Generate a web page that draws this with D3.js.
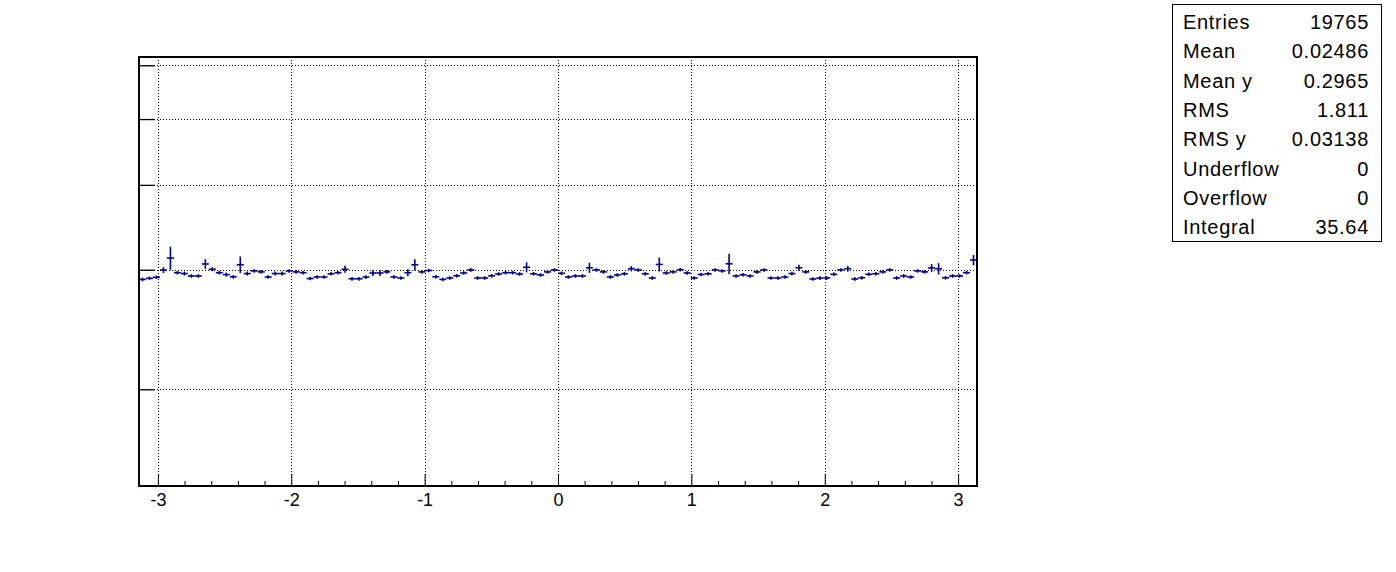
<!DOCTYPE html>
<html>
<head>
<meta charset="utf-8">
<script src="https://cdn.jsdelivr.net/npm/d3@7"></script>
<style>
  body { margin: 0; background: #fff; }
  svg { display: block; font-family: "Liberation Sans", Arial, Helvetica, sans-serif; }
</style>
</head>
<body>
<div class="chart"></div>
<script>
var width = 1396;
var height = 572;
var frame = { left: 139, right: 977, top: 57, bottom: 486 };
var markColor = "#000090";

// profile: 120 bins from -pi to pi
var nBins = 120;
var xMin = -Math.PI;
var xMax = Math.PI;

var binValues = [
	0.2903, 0.2914, 0.2924, 0.2997, 0.3121, 0.2970, 0.2961, 0.2937, 0.2937, 0.3059,
	0.3005, 0.2970, 0.2951, 0.2929, 0.3051, 0.2961, 0.2988, 0.2978, 0.2927, 0.2961,
	0.2961, 0.2988, 0.2978, 0.2970, 0.2912, 0.2927, 0.2927, 0.2959, 0.2970, 0.3005,
	0.2909, 0.2909, 0.2926, 0.2967, 0.2967, 0.2978, 0.2927, 0.2917, 0.2970, 0.3051,
	0.2978, 0.2992, 0.2929, 0.2903, 0.2917, 0.2939, 0.2967, 0.2998, 0.2917, 0.2917,
	0.2939, 0.2957, 0.2970, 0.2970, 0.2957, 0.3025, 0.2959, 0.2947, 0.2978, 0.2998,
	0.2964, 0.2927, 0.2937, 0.2937, 0.3020, 0.2998, 0.2978, 0.2927, 0.2947, 0.2959,
	0.3010, 0.2997, 0.2959, 0.2917, 0.3054, 0.2967, 0.2978, 0.3000, 0.2967, 0.2917,
	0.2952, 0.2959, 0.2998, 0.2988, 0.3061, 0.2937, 0.2949, 0.2937, 0.2978, 0.2998,
	0.2917, 0.2917, 0.2927, 0.2961, 0.3020, 0.2978, 0.2907, 0.2916, 0.2917, 0.2954,
	0.2998, 0.3010, 0.2907, 0.2919, 0.2954, 0.2959, 0.2978, 0.2998, 0.2917, 0.2937,
	0.2927, 0.2988, 0.2978, 0.3018, 0.3010, 0.2919, 0.2937, 0.2937, 0.2970, 0.3100
];

var binErrors = [
	0.0018, 0.0018, 0.0018, 0.0030, 0.0122, 0.0018, 0.0020, 0.0018, 0.0018, 0.0050,
	0.0020, 0.0018, 0.0020, 0.0018, 0.0086, 0.0020, 0.0018, 0.0018, 0.0018, 0.0020,
	0.0020, 0.0018, 0.0018, 0.0018, 0.0018, 0.0018, 0.0018, 0.0018, 0.0018, 0.0035,
	0.0018, 0.0018, 0.0018, 0.0030, 0.0030, 0.0018, 0.0018, 0.0018, 0.0035, 0.0058,
	0.0018, 0.0018, 0.0018, 0.0018, 0.0018, 0.0018, 0.0018, 0.0020, 0.0018, 0.0018,
	0.0018, 0.0018, 0.0018, 0.0018, 0.0018, 0.0052, 0.0018, 0.0018, 0.0018, 0.0018,
	0.0018, 0.0018, 0.0018, 0.0018, 0.0052, 0.0018, 0.0018, 0.0018, 0.0018, 0.0018,
	0.0027, 0.0018, 0.0018, 0.0018, 0.0072, 0.0018, 0.0018, 0.0018, 0.0018, 0.0018,
	0.0018, 0.0018, 0.0018, 0.0018, 0.0107, 0.0018, 0.0018, 0.0018, 0.0018, 0.0018,
	0.0018, 0.0018, 0.0018, 0.0018, 0.0030, 0.0018, 0.0018, 0.0018, 0.0018, 0.0018,
	0.0018, 0.0030, 0.0018, 0.0018, 0.0018, 0.0018, 0.0018, 0.0018, 0.0018, 0.0018,
	0.0018, 0.0018, 0.0018, 0.0040, 0.0058, 0.0018, 0.0018, 0.0018, 0.0018, 0.0054
];

var xTicks = [-3, -2, -1, 0, 1, 2, 3];
var xTickLabels = ["-3", "-2", "-1", "0", "1", "2", "3"];
var yTicks = [0.2, 0.3, 0.4, 0.5, 0.6];
var yDomain = [0.1441, 0.6171];

var statNames = ["Entries", "Mean", "Mean y", "RMS", "RMS y", "Underflow", "Overflow", "Integral"];
var statValues = ["19765", "0.02486", "0.2965", "1.811", "0.03138", "0", "0", "35.64"];

var svg = d3.select(".chart").append("svg").attr("width", width).attr("height", height);
svg.append("rect").attr("width", width).attr("height", height).attr("fill", "#fff");

var x = d3.scaleLinear().domain([xMin, xMax]).range([frame.left, frame.right]);
var y = d3.scaleLog().domain(yDomain).range([frame.bottom, frame.top]);

function init() {
	drawGrid();
	drawAxes();
	drawProfile();
	drawFrame();
	drawStats();
}

/* dotted grid at the major ticks */
function drawGrid() {
	var g = svg.append("g").attr("class", "grid")
		.attr("stroke", "#000").attr("stroke-width", 1).attr("stroke-dasharray", "1,2");
	g.selectAll(".gx").data(xTicks).enter().append("line")
		.attr("x1", function(d) { return Math.round(x(d)) + 0.5; })
		.attr("x2", function(d) { return Math.round(x(d)) + 0.5; })
		.attr("y1", frame.top).attr("y2", frame.bottom);
	g.selectAll(".gy").data(yTicks).enter().append("line")
		.attr("y1", function(d) { return Math.round(y(d)) + 0.5; })
		.attr("y2", function(d) { return Math.round(y(d)) + 0.5; })
		.attr("x1", frame.left).attr("x2", frame.right);
}

function drawAxes() {
	// major x ticks point into the frame, labels use a plain hyphen like ROOT
	var xAxis = d3.axisBottom(x).tickValues(xTicks).tickSizeInner(-12).tickSizeOuter(0).tickPadding(7)
		.tickFormat(function(d, i) { return xTickLabels[i]; });
	var gx = svg.append("g").attr("transform", "translate(0," + frame.bottom + ")").call(xAxis);
	gx.select(".domain").remove();
	gx.selectAll("text").attr("font-size", 18).attr("fill", "#000")
		.attr("font-family", "Liberation Sans, Arial, sans-serif");

	var minor = d3.range(-15, 16).filter(function(k) { return k % 5 != 0; })
		.map(function(k) { return k * 0.2; });
	var xMinor = d3.axisBottom(x).tickValues(minor).tickSizeInner(-5).tickSizeOuter(0).tickFormat("");
	var gm = svg.append("g").attr("transform", "translate(0," + frame.bottom + ")").call(xMinor);
	gm.select(".domain").remove();

	// log y axis: ticks only, no labels
	var yAxis = d3.axisLeft(y).tickValues(yTicks).tickSizeInner(-16).tickSizeOuter(0).tickFormat("");
	var gy = svg.append("g").attr("transform", "translate(" + frame.left + ",0)").call(yAxis);
	gy.select(".domain").remove();
	gy.selectAll("line").attr("stroke-width", 1.3);
}

/* each bin: horizontal bar over the bin width plus the vertical error bar */
function drawProfile() {
	var binWidth = (xMax - xMin) / nBins;
	var bins = binValues.map(function(v, i) {
		return { lo: xMin + i * binWidth, hi: xMin + (i + 1) * binWidth, v: v, e: binErrors[i] };
	});
	var g = svg.append("g").attr("stroke", markColor).attr("stroke-width", 1.6);
	g.selectAll(".h").data(bins).enter().append("line")
		.attr("x1", function(d) { return x(d.lo); })
		.attr("x2", function(d) { return x(d.hi); })
		.attr("y1", function(d) { return y(d.v); })
		.attr("y2", function(d) { return y(d.v); });
	g.selectAll(".v").data(bins).enter().append("line")
		.attr("x1", function(d) { return x((d.lo + d.hi) / 2); })
		.attr("x2", function(d) { return x((d.lo + d.hi) / 2); })
		.attr("y1", function(d) { return y(d.v - d.e); })
		.attr("y2", function(d) { return y(d.v + d.e); });
}

function drawFrame() {
	svg.append("rect")
		.attr("x", frame.left).attr("y", frame.top)
		.attr("width", frame.right - frame.left).attr("height", frame.bottom - frame.top)
		.attr("fill", "none").attr("stroke", "#000").attr("stroke-width", 2);
}

function drawStats() {
	var g = svg.append("g").attr("font-size", 20).attr("letter-spacing", 0.7).attr("fill", "#000");
	g.append("rect").attr("x", 1172.5).attr("y", 4.5).attr("width", 209).attr("height", 237)
		.attr("fill", "#fff").attr("stroke", "#000").attr("stroke-width", 1);
	statNames.forEach(function(name, i) {
		var by = 29 + i * 29.3;
		g.append("text").attr("x", 1183).attr("y", by).text(name);
		g.append("text").attr("x", 1369).attr("y", by).attr("text-anchor", "end").text(statValues[i]);
	});
}

init();
</script>
</body>
</html>
